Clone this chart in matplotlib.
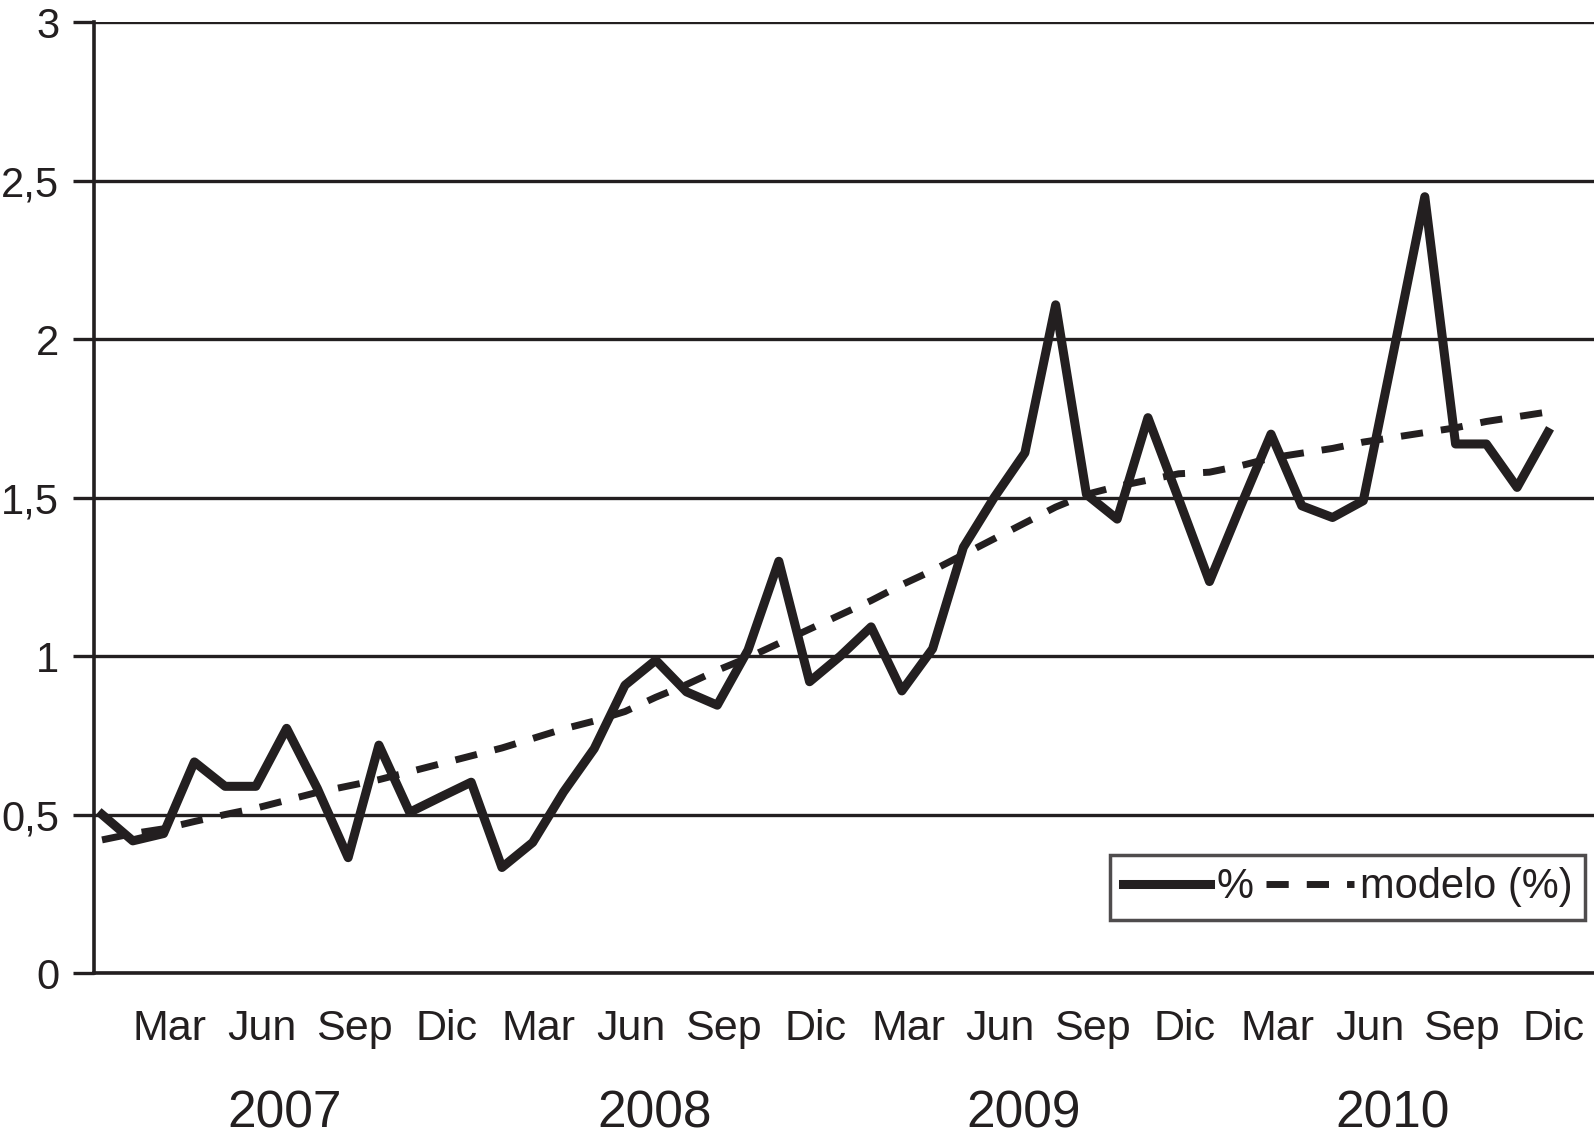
"""Monthly % vs fitted model, 2007-2010 (reproduction)."""

import matplotlib
matplotlib.use("Agg")
import matplotlib.pyplot as plt
from matplotlib.transforms import blended_transform_factory

plt.rcParams["font.family"] = ["Liberation Sans", "DejaVu Sans"]

INK = "#231f20"

years = ["2007", "2008", "2009", "2010"]
month_labels = ["Mar", "Jun", "Sep", "Dic"]
month_label_idx = [2, 5, 8, 11]

# observed monthly values (Jan 2007 .. Dec 2010)
pct = [0.50, 0.417, 0.44, 0.666, 0.589, 0.589, 0.772, 0.582, 0.364, 0.719, 0.507, 0.555,
       0.602, 0.333, 0.412, 0.571, 0.708, 0.908, 0.987, 0.887, 0.845, 1.019, 1.299, 0.919,
       1.00, 1.092, 0.89, 1.023, 1.343, 1.50, 1.641, 2.108, 1.51, 1.432, 1.752, 1.495,
       1.235, 1.47, 1.70, 1.474, 1.437, 1.49, 1.967, 2.449, 1.669, 1.669, 1.532, 1.706]

# fitted model values
modelo = [0.42, 0.44, 0.455, 0.478, 0.50, 0.52, 0.545, 0.57, 0.59, 0.61, 0.635, 0.66,
          0.685, 0.71, 0.74, 0.77, 0.795, 0.825, 0.87, 0.91, 0.955, 0.995, 1.04, 1.085,
          1.13, 1.175, 1.225, 1.27, 1.32, 1.37, 1.42, 1.47, 1.51, 1.535, 1.555, 1.575,
          1.58, 1.60, 1.625, 1.64, 1.655, 1.675, 1.69, 1.705, 1.72, 1.74, 1.755, 1.77]

yticks = [0, 0.5, 1, 1.5, 2, 2.5, 3]
ytick_labels = ["0", "0,5", "1", "1,5", "2", "2,5", "3"]


def main():
    fig = plt.figure(figsize=(15.94, 11.43), dpi=100)
    ax = fig.add_axes([0.059, 0.1487, 0.941, 0.832])

    x = list(range(len(pct)))
    ax.plot(x, pct, "-", color=INK, lw=6.5, solid_joinstyle="round", label="%", zorder=3)
    ax.plot(x, modelo, color=INK, lw=5, dashes=(3.2, 2.6), dash_capstyle="butt",
            label="modelo (%)", zorder=4)

    ax.set_xlim(-0.26, 48.5)
    ax.set_ylim(0, 3)
    ax.set_yticks(yticks)
    ax.set_yticklabels(ytick_labels, fontsize=30, color=INK)
    ax.yaxis.grid(True, color=INK, lw=2.4)
    ax.set_axisbelow(True)
    ax.tick_params(axis="y", length=15, width=2.4, color=INK, pad=10)

    # month labels sit a little right of the data point
    xt = [i + 12 * k + 0.2 for k in range(len(years)) for i in month_label_idx]
    ax.set_xticks(xt)
    ax.set_xticklabels(month_labels * len(years), fontsize=31, color=INK)
    ax.tick_params(axis="x", length=0, pad=26)

    trans = blended_transform_factory(ax.transData, fig.transFigure)
    for k, yr in enumerate(years):
        ax.text(5.95 + 12 * k, 0.025, yr, transform=trans, ha="center", va="center",
                fontsize=37, color=INK)

    for s in ["top", "right"]:
        ax.spines[s].set_visible(False)
    for s in ["left", "bottom"]:
        ax.spines[s].set_color(INK)
        ax.spines[s].set_linewidth(2.6)

    leg = ax.legend(loc="lower right", bbox_to_anchor=(0.994, 0.056), ncol=2,
                    fontsize=30, frameon=True, fancybox=False, borderaxespad=0,
                    handlelength=2.1, handletextpad=0.15, columnspacing=0.3,
                    borderpad=0.3)
    leg.get_frame().set_edgecolor(INK)
    leg.get_frame().set_linewidth(2.5)
    for t in leg.get_texts():
        t.set_color(INK)

    fig.savefig("out.png", dpi=100)


if __name__ == "__main__":
    main()
